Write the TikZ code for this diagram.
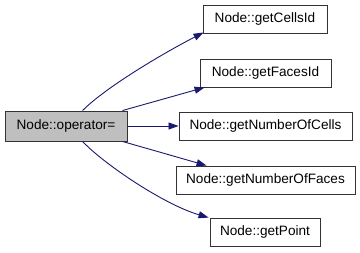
\documentclass[tikz,border=0pt]{standalone}
\usepackage{fontspec}
\setmainfont{Liberation Sans}
\usetikzlibrary{arrows.meta}
\definecolor{edgeblue}{HTML}{191970}
\definecolor{boxgray}{HTML}{BFBFBF}
\begin{document}
\begin{tikzpicture}[x=1pt,y=-1pt,
  fn/.style={draw=black!80, line width=0.9pt, fill=white, inner sep=0pt,
    minimum height=28pt, font=\fontsize{13.6}{15}\selectfont},
  caller/.style={fn, fill=boxgray, minimum height=30pt},
  call/.style={draw=edgeblue, line width=0.9pt,
    -{Triangle[length=10pt,width=7pt]}, edgeblue}]
\useasboundingbox (0,0) rectangle (360,253);

\node[caller, minimum width=122pt] (op) at (66,126) {Node::operator=};
\node[fn, minimum width=124pt] (cells)  at (265,19)    {Node::getCellsId};
\node[fn, minimum width=131pt] (faces)  at (265.5,73)  {Node::getFacesId};
\node[fn, minimum width=173pt] (ncells) at (265.5,126) {Node::getNumberOfCells};
\node[fn, minimum width=179pt] (nfaces) at (265.5,180) {Node::getNumberOfFaces};
\node[fn, minimum width=110pt] (point)  at (265,232)   {Node::getPoint};

\draw[call] ([xshift=78pt]op.north west) .. controls (105,88) and (160,55) .. ([xshift=1pt,yshift=1pt]cells.south west);
\draw[call] ([xshift=-5pt]op.north east) -- ([xshift=5pt]faces.south west);
\draw[call] (op.east) -- (ncells.west);
\draw[call] ([xshift=-5pt]op.south east) -- ([xshift=31pt]nfaces.north west);
\draw[call] ([xshift=78pt]op.south west) .. controls (105,165) and (165,205) .. ([xshift=-1pt]point.north west);
\end{tikzpicture}
\end{document}
